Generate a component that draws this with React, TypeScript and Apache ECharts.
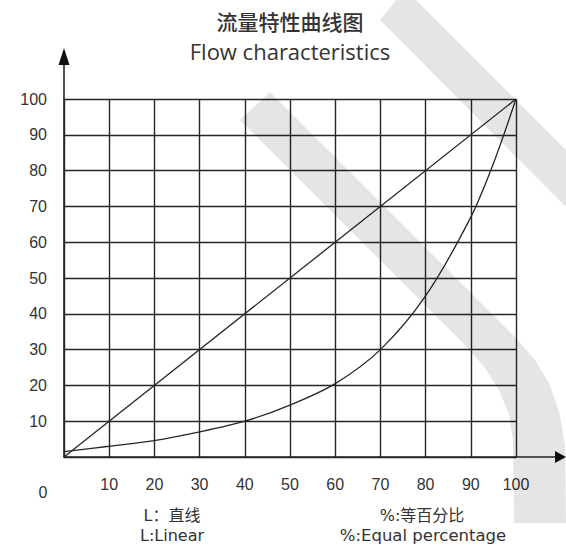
import React, { useEffect, useRef } from "react";
import * as echarts from "echarts";

// ---- data ----
const xTicks = [0, 10, 20, 30, 40, 50, 60, 70, 80, 90, 100];
const linearX = [0, 100];
const linearY = [0, 100];
const equalX = [0, 10, 20, 30, 40, 50, 60, 70, 80, 90, 95, 100];
const equalY = [1.5, 3, 4.6, 7, 10, 14.5, 20.5, 30, 45, 67, 82, 100];

const titleCN = "流量特性曲线图";
const titleEN = "Flow characteristics";
const legendL_CN = "L：直线";
const legendL_EN = "L:Linear";
const legendP_CN = "%:等百分比";
const legendP_EN = "%:Equal percentage";

// layout constants (pixels)
const W = 566;
const H = 545;
const G_LEFT = 64;
const G_TOP = 99;
const G_RIGHT_X = 516;
const G_BOTTOM_Y = 457;

const LINE = "#262626";
const TXT = "#333";

export default function App() {
  const ref = useRef<HTMLDivElement>(null);

  useEffect(() => {
    if (!ref.current) return;
    const chart = echarts.init(ref.current, undefined, { renderer: "svg" });

    const wm = "rgba(0,0,0,0.1)";
    const outerBand = [
      [380, 20], [396, 0], [416, 0], [566, 150], [566, 207],
    ];
    const innerBand = [
      [240, 120], [465, 345], [485, 368], [500, 392], [509, 415], [513, 440], [514, 523],
      [566, 523], [565, 445], [560, 415], [550, 385], [535, 360], [515, 337], [270, 92],
    ];

    const txt = (x: number, y: number, text: string, size: number, family: string, weight: string | number = "normal") => ({
      type: "text",
      x,
      y,
      silent: true,
      style: {
        text,
        fill: TXT,
        fontSize: size,
        fontFamily: family,
        fontWeight: weight,
        align: "center",
        verticalAlign: "middle",
        textAlign: "center",
        textVerticalAlign: "middle",
      },
    });

    chart.setOption({
      animation: false,
      backgroundColor: "#fff",
      grid: {
        left: G_LEFT,
        top: G_TOP,
        right: W - G_RIGHT_X,
        bottom: H - G_BOTTOM_Y,
        containLabel: false,
      },
      xAxis: {
        type: "value",
        min: xTicks[0],
        max: xTicks[xTicks.length - 1],
        interval: 10,
        axisLine: { show: true, lineStyle: { color: LINE, width: 1.6 } },
        axisTick: { show: false },
        splitLine: { show: true, lineStyle: { color: LINE, width: 1.4 } },
        axisLabel: {
          formatter: (v: number) => (v === 0 ? "" : String(v)),
          margin: 19,
          fontSize: 16,
          color: TXT,
          fontFamily: "Liberation Sans",
        },
      },
      yAxis: {
        type: "value",
        min: 0,
        max: 100,
        interval: 10,
        axisLine: { show: true, lineStyle: { color: LINE, width: 1.6 } },
        axisTick: { show: false },
        splitLine: { show: true, lineStyle: { color: LINE, width: 1.4 } },
        axisLabel: {
          formatter: (v: number) => (v === 0 ? "" : String(v)),
          margin: 17,
          fontSize: 16,
          color: TXT,
          fontFamily: "Liberation Sans",
        },
      },
      series: [
        {
          type: "line",
          data: linearX.map((x, i) => [x, linearY[i]]),
          symbol: "none",
          lineStyle: { color: LINE, width: 1.3 },
        },
        {
          type: "line",
          data: equalX.map((x, i) => [x, equalY[i]]),
          symbol: "none",
          smooth: 0.3,
          lineStyle: { color: LINE, width: 1.3 },
        },
      ],
      graphic: [
        // axis extensions and arrows
        { type: "line", silent: true, shape: { x1: G_LEFT, y1: G_TOP, x2: G_LEFT, y2: 60 }, style: { stroke: LINE, lineWidth: 1.6 } },
        { type: "polygon", silent: true, shape: { points: [[G_LEFT, 48], [G_LEFT - 5.5, 65], [G_LEFT + 5.5, 65]] }, style: { fill: "#111" } },
        { type: "line", silent: true, shape: { x1: G_RIGHT_X, y1: G_BOTTOM_Y, x2: 558, y2: G_BOTTOM_Y }, style: { stroke: LINE, lineWidth: 1.6 } },
        { type: "polygon", silent: true, shape: { points: [[566, G_BOTTOM_Y], [555, G_BOTTOM_Y - 6], [555, G_BOTTOM_Y + 6]] }, style: { fill: "#111" } },
        // origin label
        txt(43, 492, "0", 16, "Liberation Sans"),
        // titles
        txt(290, 21, titleCN, 21, "Noto Sans CJK SC", 500),
        txt(290, 51, titleEN, 22, "Open Sans"),
        // legends
        txt(172, 515, legendL_CN, 16, "DejaVu Sans, Noto Sans CJK SC"),
        txt(172, 535, legendL_EN, 16, "DejaVu Sans"),
        txt(422, 515, legendP_CN, 16, "DejaVu Sans, Noto Sans CJK SC"),
        txt(423, 535, legendP_EN, 16.5, "DejaVu Sans"),
        // watermark bands
        { type: "polygon", silent: true, z: 100, shape: { points: outerBand }, style: { fill: wm } },
        { type: "polygon", silent: true, z: 100, shape: { points: innerBand }, style: { fill: wm } },
      ],
    });

    return () => chart.dispose();
  }, []);

  return (
    <div
      ref={ref}
      style={{ position: "fixed", left: 0, top: 0, width: W, height: H, background: "#fff" }}
    />
  );
}
